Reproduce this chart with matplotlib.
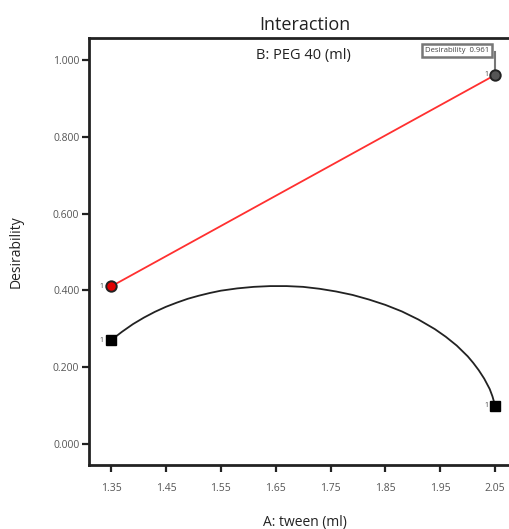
import matplotlib
matplotlib.use("Agg")
import matplotlib.pyplot as plt

plt.rcParams['font.family'] = ['Open Sans', 'DejaVu Sans']

# factor levels and desirability values
tween_levels = [1.35, 2.05]
peg_high = [0.410, 0.961]
design_low = [0.270, 0.099]

# low PEG response curve read along A
curve_x = [1.35, 1.37, 1.39, 1.41, 1.43, 1.45, 1.47, 1.49, 1.51, 1.53,
           1.55, 1.58, 1.61, 1.64, 1.67, 1.70, 1.73, 1.76, 1.79, 1.82,
           1.85, 1.88, 1.91, 1.94, 1.96, 1.98, 2.00, 2.01, 2.02, 2.03,
           2.04, 2.045, 2.05]
curve_y = [0.270, 0.292, 0.312, 0.329, 0.344, 0.357, 0.368, 0.378, 0.386, 0.393,
           0.399, 0.405, 0.409, 0.411, 0.411, 0.409, 0.404, 0.397, 0.388, 0.376,
           0.362, 0.345, 0.324, 0.299, 0.279, 0.256, 0.228, 0.211, 0.192, 0.170,
           0.143, 0.124, 0.099]

x_ticks = [1.35, 1.45, 1.55, 1.65, 1.75, 1.85, 1.95, 2.05]
y_ticks = [0.0, 0.2, 0.4, 0.6, 0.8, 1.0]

fig = plt.figure(figsize=(5.09, 5.29), dpi=100)
ax = fig.add_axes([0.175, 0.121, 0.847, 0.807])

ax.plot(curve_x, curve_y, color='#222222', lw=1.3, zorder=2)
ax.plot(tween_levels, peg_high, color='#ff3030', lw=1.3, zorder=2)

ax.plot(tween_levels, design_low, ls='none', marker='s', ms=7.5,
        color='black', zorder=3)
ax.plot(tween_levels[0], peg_high[0], ls='none', marker='o', ms=7.5,
        mfc='#e00000', mec='#222222', mew=1.4, zorder=3)
ax.plot(tween_levels[1], peg_high[1], ls='none', marker='o', ms=7.5,
        mfc='#555555', mec='#222222', mew=1.4, zorder=3)

# design point counts
for xv, yv in [(tween_levels[0], peg_high[0]), (tween_levels[0], design_low[0]),
               (tween_levels[1], peg_high[1]), (tween_levels[1], design_low[1])]:
    ax.text(xv - 0.013, yv, '1', fontsize=5, color='#444444',
            ha='right', va='center')

# flag for the selected point
ax.plot([2.05, 2.05], [peg_high[1], 1.02], color='#777777', lw=1.5, zorder=1)
ax.text(1.981, 1.025, 'Desirability  0.961', fontsize=5.6, color='#444444',
        ha='center', va='center',
        bbox=dict(boxstyle='square,pad=0.35', fc='white', ec='#777777', lw=1.8))

ax.text(1.70, 1.012, 'B: PEG 40 (ml)', fontsize=10.5, color='#222222',
        ha='center', va='center')

ax.set_xlim(1.31, 2.0956)
ax.set_ylim(-0.055, 1.057)
ax.set_xticks(x_ticks)
ax.set_xticklabels([f'{v:.2f}' for v in x_ticks])
ax.set_yticks(y_ticks)
ax.set_yticklabels([f'{v:.3f}' for v in y_ticks])

for s in ax.spines.values():
    s.set_linewidth(2)
    s.set_color('#222222')
ax.tick_params(direction='out', length=5, width=1.6, color='#222222',
               labelsize=7.5, labelcolor='#555555', pad=2)
ax.tick_params(axis='x', pad=8)

ax.set_title('Interaction', fontsize=13, color='#222222', pad=6)
ax.set_xlabel('A: tween (ml)', fontsize=10, color='#222222', labelpad=15)
ax.set_ylabel('Desirability', fontsize=10, color='#222222', labelpad=21)

fig.savefig('out.png', dpi=100)
